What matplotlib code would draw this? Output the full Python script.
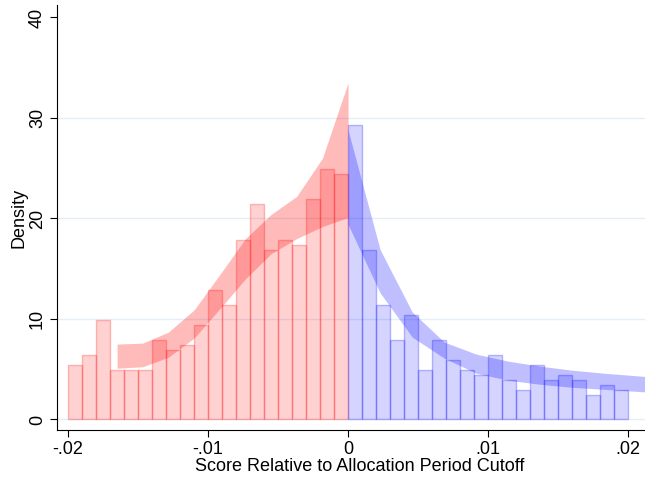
import numpy as np
import matplotlib
matplotlib.use('Agg')
import matplotlib.pyplot as plt

plt.rcParams.update({
    'font.family': ['Liberation Sans', 'DejaVu Sans'],
    'font.size': 13,
})

# histogram bins (width .001)
bin_w = 0.001
left_edges = np.round(np.arange(-0.020, 0.0, bin_w), 4)
left_dens = [5.4, 6.4, 9.9, 4.9, 4.9, 4.9, 7.9, 6.9, 7.4, 9.4,
             12.9, 11.4, 17.9, 21.4, 16.9, 17.9, 17.4, 21.9, 24.9, 24.4]
right_edges = np.round(np.arange(0.0, 0.020, bin_w), 4)
right_dens = [29.3, 16.9, 11.4, 7.9, 10.4, 4.9, 7.9, 5.9, 4.9, 4.4,
              6.4, 3.9, 2.9, 5.4, 3.9, 4.4, 3.9, 2.4, 3.4, 2.9]

# confidence bands of the fitted density
left_x = [-0.0165, -0.01467, -0.01283, -0.0110, -0.00917, -0.00733,
          -0.0055, -0.00367, -0.00183, 0.0]
left_hi = [7.5, 7.6, 8.7, 10.9, 14.4, 18.0, 20.4, 22.2, 26.0, 33.5]
left_lo = [5.1, 5.25, 6.2, 8.1, 11.0, 14.0, 16.5, 18.0, 19.2, 20.1]

right_x = [0.0, 0.00229, 0.00458, 0.00687, 0.00916, 0.01145,
           0.01374, 0.01603, 0.01832, 0.02061, 0.0229]
right_hi = [28.8, 16.9, 10.7, 7.7, 6.5, 5.8, 5.3, 4.9, 4.6, 4.35, 4.1]
right_lo = [19.4, 12.6, 8.2, 6.1, 4.6, 3.9, 3.5, 3.2, 3.0, 2.8, 2.6]

red = (1.0, 0.0, 0.0)
blue = (0.0, 0.0, 1.0)

fig = plt.figure(figsize=(6.45, 4.82), dpi=100)
ax = fig.add_axes([0.0884, 0.108, 0.9116, 0.8816])

for y in [0, 10, 20, 30]:
    ax.axhline(y, color='#e3eff8', lw=1.0, zorder=0)

ax.bar(left_edges, left_dens, width=bin_w, align='edge',
       facecolor=red + (0.18,), edgecolor=red + (0.25,), linewidth=1.0, zorder=2)
ax.bar(right_edges, right_dens, width=bin_w, align='edge',
       facecolor=blue + (0.17,), edgecolor=blue + (0.25,), linewidth=1.0, zorder=2)

ax.fill_between(left_x, left_lo, left_hi, color=red, alpha=0.27, lw=0, zorder=3)
ax.fill_between(right_x, right_lo, right_hi, color=blue, alpha=0.25, lw=0, zorder=3)

ax.set_xlim(-0.02079, 0.02121)
ax.set_ylim(-1.04, 41.24)
ax.set_xticks([-0.02, -0.01, 0, 0.01, 0.02])
ax.set_xticklabels(['-.02', '-.01', '0', '.01', '.02'])
ax.set_yticks([0, 10, 20, 30, 40])
ax.set_yticklabels(['0', '10', '20', '30', '40'], rotation=90, va='center')

ax.spines['top'].set_visible(False)
ax.spines['right'].set_visible(False)
ax.tick_params(direction='out', length=5, width=0.8, pad=3)

ax.set_xlabel('Score Relative to Allocation Period Cutoff')
ax.xaxis.set_label_coords(0.515, -0.065)
ax.set_ylabel('Density', labelpad=1)

fig.savefig('out.png', dpi=100, facecolor='white')
